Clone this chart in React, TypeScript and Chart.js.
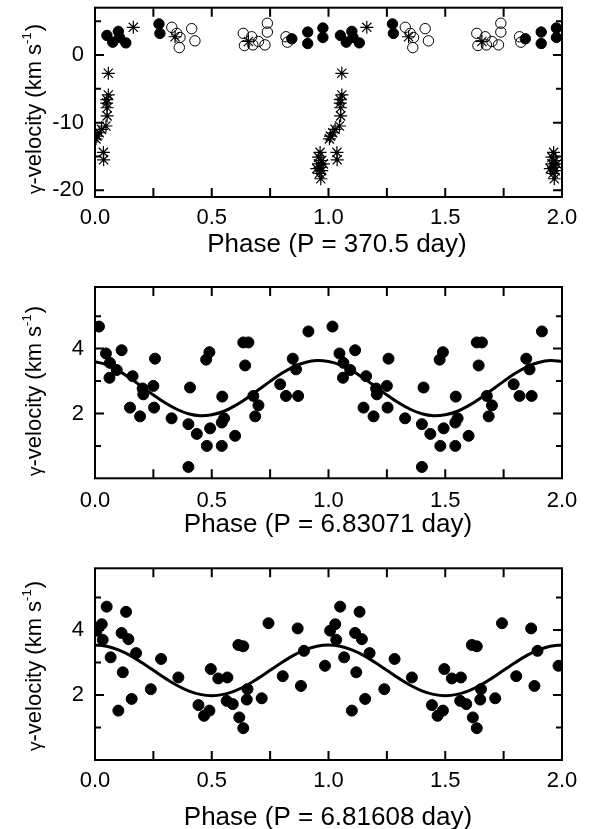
import React, { useEffect, useRef } from 'react';
import { Chart, registerables } from 'chart.js';
Chart.register(...registerables);

type Pt = [number, number]; // [phase in 0..1, gamma-velocity km/s]

// ---- Top panel (P = 370.5 day) ----
const topFilled: Pt[] = [
  [0.051, 2.9], [0.076, 1.9], [0.100, 3.5], [0.105, 2.6], [0.132, 1.8],
  [0.274, 4.6], [0.278, 3.2], [0.843, 2.4], [0.911, 3.4], [0.911, 1.7],
  [0.976, 4.0], [0.976, 2.6],
];
const topOpen: Pt[] = [
  [0.329, 4.1], [0.350, 3.2], [0.364, 2.6], [0.361, 1.1], [0.414, 3.9], [0.428, 2.1],
  [0.635, 3.2], [0.640, 1.4], [0.671, 2.7], [0.676, 1.5], [0.700, 2.0], [0.728, 1.5],
  [0.738, 4.7], [0.738, 3.4], [0.818, 2.7], [0.824, 1.9],
];
const topStar: Pt[] = [
  [0.164, 4.1], [0.343, 2.7], [0.657, 2.0],
  [0.057, -2.7], [0.057, -5.9], [0.051, -6.6], [0.050, -7.1], [0.052, -7.8], [0.052, -9.0],
  [0.047, -10.5], [0.028, -11.0], [0.018, -11.5], [0.008, -12.0], [0.004, -12.4],
  [0.036, -14.4], [0.037, -15.5],
  [0.964, -14.4], [0.957, -15.1], [0.971, -15.6], [0.957, -16.1], [0.978, -16.1],
  [0.964, -16.6], [0.950, -16.8], [0.971, -17.1], [0.962, -17.5], [0.967, -18.3],
];

// ---- Middle panel (P = 6.83071 day) ----
const midPoints: Pt[] = [
  [0.017, 4.68], [0.047, 3.85], [0.064, 3.56], [0.062, 3.10], [0.093, 3.34], [0.114, 3.95],
  [0.150, 2.18], [0.161, 3.15], [0.193, 1.91], [0.204, 2.77], [0.207, 2.59], [0.250, 2.85],
  [0.253, 2.18], [0.257, 3.69], [0.328, 1.85], [0.400, 1.67], [0.407, 2.80], [0.400, 0.35],
  [0.436, 1.37], [0.476, 3.66], [0.490, 3.89], [0.479, 1.00], [0.493, 1.54], [0.543, 1.00],
  [0.543, 1.72], [0.553, 1.85], [0.545, 2.52], [0.600, 1.31], [0.635, 4.19], [0.657, 4.19],
  [0.643, 3.48], [0.678, 2.54], [0.700, 2.25], [0.686, 1.91], [0.793, 2.90], [0.818, 2.54],
  [0.847, 3.69], [0.861, 3.36], [0.870, 2.54], [0.914, 4.53],
];
// ---- Bottom panel (P = 6.81608 day) ----
const botPoints: Pt[] = [
  [0.007, 3.98], [0.029, 4.18], [0.033, 3.70], [0.050, 4.72], [0.067, 3.16], [0.100, 1.52],
  [0.114, 3.91], [0.119, 2.70], [0.133, 4.56], [0.143, 3.72], [0.157, 1.88], [0.176, 3.29],
  [0.239, 2.18], [0.283, 3.11], [0.357, 2.54], [0.443, 1.69], [0.467, 1.36], [0.490, 1.52],
  [0.496, 2.80], [0.528, 2.51], [0.567, 2.54], [0.564, 1.82], [0.590, 1.72], [0.618, 1.31],
  [0.635, 0.98], [0.614, 3.54], [0.635, 3.50], [0.653, 2.18], [0.650, 1.86], [0.714, 1.90],
  [0.743, 4.21], [0.804, 2.58], [0.868, 4.05], [0.882, 2.28], [0.895, 3.36], [0.985, 2.90],
];

// fitted curves, phase 0..1
const curvePhase = [0, 0.05, 0.1, 0.15, 0.2, 0.25, 0.3, 0.35, 0.4, 0.45, 0.5, 0.55, 0.6, 0.65, 0.7, 0.75, 0.8, 0.85, 0.9, 0.95, 1.0];
const midCurve = [3.60, 3.50, 3.32, 3.09, 2.83, 2.57, 2.33, 2.13, 1.99, 1.93, 1.96, 2.06, 2.24, 2.47, 2.73, 2.99, 3.24, 3.44, 3.57, 3.63, 3.60];
const botCurve = [3.54, 3.50, 3.39, 3.22, 3.00, 2.76, 2.52, 2.30, 2.13, 2.02, 1.98, 2.02, 2.13, 2.30, 2.52, 2.76, 3.00, 3.22, 3.39, 3.50, 3.54];

// ticks
const xTickValues = [0, 0.5, 1, 1.5, 2];
const xTickLabels = ['0.0', '0.5', '1.0', '1.5', '2.0'];
const xMinorTicks = [0.25, 0.5, 0.75, 1, 1.25, 1.5, 1.75];
const topYTicks = [-20, -10, 0];
const topYLabels = ['-20', '-10', '0'];
const topYMarks = [-20, -15, -10, -5, 0, 5];
const lowYTicks = [2, 4];
const lowYLabels = ['2', '4'];
const lowYMarks = [1, 2, 3, 4, 5];

const FONT = '"Liberation Sans", Arial, Helvetica, sans-serif';

const fold = (pts: Pt[]) =>
  pts.flatMap(([p, v]) => [{ x: p, y: v }, { x: p + 1, y: v }]).filter((d) => d.x <= 2);
const curve = (vals: number[]) => {
  const out: { x: number; y: number }[] = [];
  curvePhase.forEach((p, i) => out.push({ x: p, y: vals[i] }));
  curvePhase.forEach((p, i) => { if (i > 0) out.push({ x: p + 1, y: vals[i] }); });
  return out;
};

interface PanelCfg {
  top: number; height: number; areaTop: number; areaBottom: number;
  yMin: number; yMax: number; yTicks: number[]; yLabels: string[]; yMarks: number[]; yMajor: number[];
  xTitle: string; xTitleX: number; xTitleBase: number; yTitleCenter: number; xTickPad: number;
  datasets: any[];
}

const filledDs = (pts: Pt[], r = 5.5) => ({
  data: fold(pts), pointStyle: 'circle', pointRadius: r, pointBackgroundColor: '#000',
  pointBorderColor: '#000', pointBorderWidth: 1, showLine: false, clip: 0,
});
const curveDs = (vals: number[]) => ({
  data: curve(vals), showLine: true, pointRadius: 0, borderColor: '#000', borderWidth: 3,
  tension: 0.4, fill: false, clip: 0,
});

const panels: PanelCfg[] = [
  {
    top: 0, height: 262, areaTop: 5, areaBottom: 197,
    yMin: -21, yMax: 7, yTicks: topYTicks, yLabels: topYLabels, yMarks: topYMarks, yMajor: topYTicks,
    xTitle: 'Phase (P = 370.5 day)', xTitleX: 337, xTitleBase: 252, yTitleCenter: 109, xTickPad: 8,
    datasets: [
      { data: fold(topOpen), pointStyle: 'circle', pointRadius: 5.2, pointBackgroundColor: 'rgba(0,0,0,0)',
        pointBorderColor: '#000', pointBorderWidth: 1, showLine: false, clip: 0 },
      filledDs(topFilled, 5.2),
      { data: fold(topStar), pointStyle: 'star', pointRadius: 6.5, pointBorderColor: '#000',
        pointBorderWidth: 1.2, showLine: false, clip: 0 },
      { data: fold(topStar), pointStyle: 'circle', pointRadius: 1.6, pointBackgroundColor: '#000',
        pointBorderColor: '#000', pointBorderWidth: 0, showLine: false, clip: 0 },
    ],
  },
  {
    top: 262, height: 278, areaTop: 287, areaBottom: 478.3,
    yMin: 0, yMax: 5.9, yTicks: lowYTicks, yLabels: lowYLabels, yMarks: lowYMarks, yMajor: lowYTicks,
    xTitle: 'Phase (P = 6.83071 day)', xTitleX: 328, xTitleBase: 532, yTitleCenter: 391, xTickPad: 9,
    datasets: [filledDs(midPoints), curveDs(midCurve)],
  },
  {
    top: 540, height: 289, areaTop: 568.3, areaBottom: 760,
    yMin: 0, yMax: 5.9, yTicks: lowYTicks, yLabels: lowYLabels, yMarks: lowYMarks, yMajor: lowYTicks,
    xTitle: 'Phase (P = 6.81608 day)', xTitleX: 328, xTitleBase: 825, yTitleCenter: 666, xTickPad: 8,
    datasets: [filledDs(botPoints), curveDs(botCurve)],
  },
];

function drawYTitle(ctx: CanvasRenderingContext2D, cx: number, cy: number) {
  ctx.save();
  ctx.translate(cx, cy);
  ctx.rotate(-Math.PI / 2);
  const main = `22px ${FONT}`;
  const gam = `19px ${FONT}`;
  const sup = `13px ${FONT}`;
  const g = 'γ';
  const a = '-velocity (km s';
  const b = '-1';
  const c = ')';
  ctx.font = gam;
  const wg = ctx.measureText(g).width;
  ctx.font = main;
  const wa = ctx.measureText(a).width;
  const wc = ctx.measureText(c).width;
  ctx.font = sup;
  const wb = ctx.measureText(b).width;
  const total = wg + wa + wb + wc + 1;
  let x0 = -total / 2;
  ctx.fillStyle = '#000';
  ctx.textAlign = 'left';
  ctx.textBaseline = 'alphabetic';
  ctx.font = gam; ctx.fillText(g, x0, 0); x0 += wg;
  ctx.font = main; ctx.fillText(a, x0, 0); x0 += wa;
  ctx.font = sup; ctx.fillText(b, x0, -10); x0 += wb + 1;
  ctx.font = main; ctx.fillText(c, x0, 0);
  ctx.restore();
}

function Panel({ cfg }: { cfg: PanelCfg }) {
  const ref = useRef<HTMLCanvasElement>(null);
  useEffect(() => {
    if (!ref.current) return;
    const frame = {
      id: 'frame',
      afterDraw(chart: any) {
        const { ctx, chartArea: a, scales } = chart;
        const xs = scales.x, ys = scales.y;
        ctx.save();
        ctx.strokeStyle = '#000';
        ctx.lineWidth = 2;
        ctx.lineCap = 'butt';
        ctx.beginPath();
        for (const v of xMinorTicks) {
          const px = xs.getPixelForValue(v);
          ctx.moveTo(px, a.bottom); ctx.lineTo(px, a.bottom - 9);
          ctx.moveTo(px, a.top); ctx.lineTo(px, a.top + 9);
        }
        for (const v of cfg.yMarks) {
          const py = ys.getPixelForValue(v);
          const len = cfg.yMajor.includes(v) ? 9 : 6;
          ctx.moveTo(a.left, py); ctx.lineTo(a.left + len, py);
          ctx.moveTo(a.right, py); ctx.lineTo(a.right - len, py);
        }
        ctx.stroke();
        ctx.strokeRect(a.left, a.top, a.right - a.left, a.bottom - a.top);
        ctx.fillStyle = '#000';
        ctx.font = `26px ${FONT}`;
        ctx.textAlign = 'center';
        ctx.textBaseline = 'alphabetic';
        ctx.fillText(cfg.xTitle, cfg.xTitleX, cfg.xTitleBase - cfg.top);
        ctx.restore();
        drawYTitle(ctx, 41, cfg.yTitleCenter - cfg.top);
      },
    };
    const zeroPad = (s: any) => { s.paddingLeft = 0; s.paddingRight = 0; s.paddingTop = 0; s.paddingBottom = 0; };
    const chart = new Chart(ref.current, {
      type: 'scatter',
      data: { datasets: cfg.datasets },
      options: {
        animation: false,
        responsive: false,
        events: [],
        layout: { padding: { left: 0, right: 37, top: cfg.areaTop - cfg.top, bottom: 0 } },
        plugins: { legend: { display: false }, tooltip: { enabled: false } },
        scales: {
          x: {
            type: 'linear', min: 0, max: 2,
            grid: { display: false, drawTicks: false },
            border: { display: false },
            afterBuildTicks: (s: any) => { s.ticks = xTickValues.map((v) => ({ value: v })); },
            ticks: {
              padding: cfg.xTickPad, color: '#000', autoSkip: false, maxRotation: 0,
              font: { family: FONT, size: 22 },
              callback: (_v: any, i: number) => xTickLabels[i],
            },
            afterFit: (s: any) => { s.height = cfg.top + cfg.height - cfg.areaBottom; zeroPad(s); },
          },
          y: {
            type: 'linear', min: cfg.yMin, max: cfg.yMax,
            grid: { display: false, drawTicks: false },
            border: { display: false },
            afterBuildTicks: (s: any) => { s.ticks = cfg.yTicks.map((v) => ({ value: v })); },
            ticks: {
              padding: 11, color: '#000', autoSkip: false,
              font: { family: FONT, size: 22 },
              callback: (_v: any, i: number) => cfg.yLabels[i],
            },
            afterFit: (s: any) => { s.width = 95; zeroPad(s); },
          },
        },
      } as any,
      plugins: [frame],
    });
    return () => chart.destroy();
  }, [cfg]);
  return (
    <canvas
      ref={ref}
      width={599}
      height={cfg.height}
      style={{ position: 'absolute', left: 0, top: cfg.top, width: 599, height: cfg.height }}
    />
  );
}

export default function App() {
  return (
    <div style={{ position: 'absolute', left: 0, top: 0, width: 599, height: 829, background: '#fff' }}>
      {panels.map((p, i) => <Panel key={i} cfg={p} />)}
    </div>
  );
}
